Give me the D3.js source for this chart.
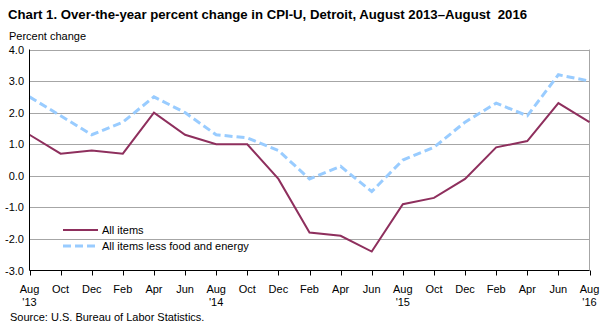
<!DOCTYPE html>
<html>
<head>
<meta charset="utf-8">
<script src="https://cdn.jsdelivr.net/npm/d3@7"></script>
<style>
  body { margin: 0; background: #fff; }
  svg { font-family: Arial, "Liberation Sans", sans-serif; }
</style>
</head>
<body>
<svg id="canvas" width="607" height="326"></svg>
<script>
// bi-monthly over-the-year change, Aug 2013 - Aug 2016
let months = ['Aug', 'Oct', 'Dec', 'Feb', 'Apr', 'Jun', 'Aug', 'Oct', 'Dec', 'Feb', 'Apr', 'Jun', 'Aug', 'Oct', 'Dec', 'Feb', 'Apr', 'Jun', 'Aug']
let years = ["'13", '', '', '', '', '', "'14", '', '', '', '', '', "'15", '', '', '', '', '', "'16"]
let allItems = [1.3, 0.7, 0.8, 0.7, 2.0, 1.3, 1.0, 1.0, -0.1, -1.8, -1.9, -2.4, -0.9, -0.7, -0.1, 0.9, 1.1, 2.3, 1.7]
let lessFoodEnergy = [2.5, 1.9, 1.3, 1.7, 2.5, 2.0, 1.3, 1.2, 0.8, -0.1, 0.3, -0.5, 0.5, 0.9, 1.7, 2.3, 1.9, 3.2, 3.0]
let yTicks = [4, 3, 2, 1, 0, -1, -2, -3]

let canvas = d3.select('#canvas')

let pLeft = 29.5, pRight = 589.5, pTop = 49.5, pBottom = 270.5

let x = d3.scaleLinear().domain([0, months.length - 1]).range([pLeft, pRight])
let y = d3.scaleLinear().domain([-3, 4]).range([pBottom, pTop])

// title
canvas.append('text')
    .attr('x', 8).attr('y', 19)
    .style('font-size', '13.2px').style('font-weight', 'bold')
    .text('Chart 1. Over-the-year percent change in CPI-U, Detroit, August 2013\u2013August\u00a0 2016')

canvas.append('text')
    .attr('x', 9).attr('y', 40)
    .style('font-size', '11px')
    .text('Percent change')

// grid
canvas.append('g')
    .selectAll('line')
    .data(yTicks.filter(d => d > -3))
    .enter().append('line')
    .attr('x1', pLeft).attr('x2', pRight)
    .attr('y1', d => Math.round(y(d)) + 0.5).attr('y2', d => Math.round(y(d)) + 0.5)
    .style('stroke', '#a6a6a6').style('stroke-width', 1)

// right border
canvas.append('line')
    .attr('x1', pRight).attr('x2', pRight).attr('y1', pTop).attr('y2', pBottom)
    .style('stroke', '#a6a6a6')

// y labels
canvas.append('g')
    .selectAll('text')
    .data(yTicks)
    .enter().append('text')
    .attr('x', 24)
    .attr('y', d => y(d) + 4)
    .attr('text-anchor', 'end')
    .style('font-size', '11px')
    .text(d => d.toFixed(1))

// lines
let line = d3.line().x((d, i) => x(i)).y(d => y(d))

canvas.append('path')
    .datum(lessFoodEnergy)
    .attr('d', line)
    .style('fill', 'none')
    .style('stroke', '#99ccff')
    .style('stroke-width', 3)
    .style('stroke-dasharray', '8,4')

canvas.append('path')
    .datum(allItems)
    .attr('d', line)
    .style('fill', 'none')
    .style('stroke', '#8e2f5d')
    .style('stroke-width', 2)

// axes
canvas.append('line')
    .attr('x1', pLeft).attr('x2', pLeft).attr('y1', pTop).attr('y2', pBottom)
    .style('stroke', '#000')
canvas.append('line')
    .attr('x1', pLeft).attr('x2', pRight).attr('y1', pBottom).attr('y2', pBottom)
    .style('stroke', '#000')

let xg = canvas.append('g')
xg.selectAll('line')
    .data(months)
    .enter().append('line')
    .attr('x1', (d, i) => Math.round(x(i)) + 0.5).attr('x2', (d, i) => Math.round(x(i)) + 0.5)
    .attr('y1', pBottom).attr('y2', pBottom + 5)
    .style('stroke', '#000')

xg.selectAll('text.m')
    .data(months)
    .enter().append('text')
    .attr('class', 'm')
    .attr('x', (d, i) => x(i))
    .attr('y', 293)
    .attr('text-anchor', 'middle')
    .style('font-size', '11px')
    .text(d => d)

xg.selectAll('text.yr')
    .data(years)
    .enter().append('text')
    .attr('class', 'yr')
    .attr('x', (d, i) => x(i))
    .attr('y', 306)
    .attr('text-anchor', 'middle')
    .style('font-size', '11px')
    .text(d => d)

// legend
let legend = canvas.append('g')
legend.append('line')
    .attr('x1', 63).attr('x2', 98).attr('y1', 230).attr('y2', 230)
    .style('stroke', '#8e2f5d').style('stroke-width', 2)
legend.append('line')
    .attr('x1', 63).attr('x2', 98).attr('y1', 246).attr('y2', 246)
    .style('stroke', '#99ccff').style('stroke-width', 3).style('stroke-dasharray', '8,4')
legend.append('text')
    .attr('x', 102).attr('y', 234)
    .style('font-size', '11px')
    .text('All items')
legend.append('text')
    .attr('x', 102).attr('y', 250)
    .style('font-size', '11px')
    .text('All items less food and energy')

canvas.append('text')
    .attr('x', 10).attr('y', 321)
    .style('font-size', '11px')
    .text('Source: U.S. Bureau of Labor Statistics.')
</script>
</body>
</html>
